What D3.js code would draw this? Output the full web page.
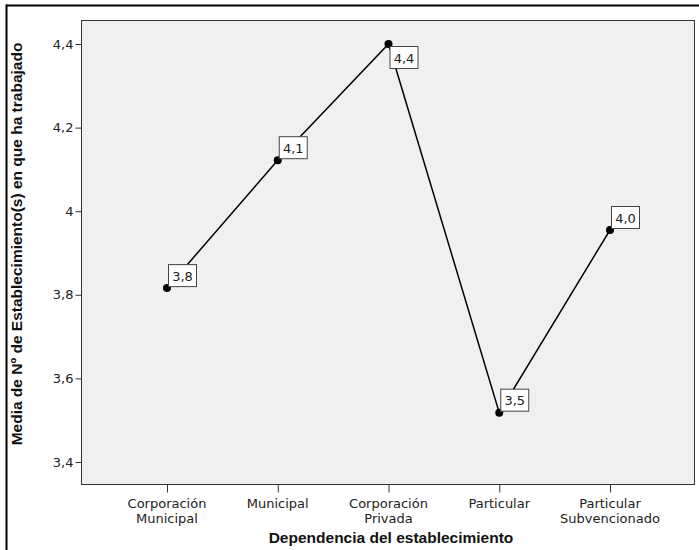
<!DOCTYPE html>
<html><head><meta charset="utf-8">
<script src="https://cdn.jsdelivr.net/npm/d3@7"></script>
<style>body{margin:0;background:#fff}svg{display:block}</style>
</head><body>
<script>
const categories = [["Corporación","Municipal"],["Municipal"],["Corporación","Privada"],["Particular"],["Particular","Subvencionado"]];
const means = [3.816, 4.122, 4.400, 3.518, 3.955];
const valueLabels = ["3,8","4,1","4,4","3,5","4,0"];
const yTicks = [3.4, 3.6, 3.8, 4.0, 4.2, 4.4];
const yTickLabels = ["3,4","3,6","3,8","4","4,2","4,4"];
const xTitle = "Dependencia del establecimiento";
const yTitle = "Media de Nº de Establecimiento(s) en que ha trabajado";

const W = 699, H = 550;
const plot = {l: 81, r: 695, t: 20, b: 484};
const svg = d3.select("body").append("svg").attr("width", W).attr("height", H);

// outer frame
svg.append("line").attr("x1",6.5).attr("x2",W).attr("y1",5.5).attr("y2",5.5).attr("stroke","#000").attr("stroke-width",2);
svg.append("line").attr("x1",6.5).attr("x2",6.5).attr("y1",4.5).attr("y2",H).attr("stroke","#000").attr("stroke-width",2);

const x = d3.scalePoint().domain(d3.range(categories.length)).range([167, 610]);
const y = d3.scaleLinear().domain([3.4, 4.4]).range([462, 44]);

svg.append("rect").attr("x",plot.l+0.5).attr("y",plot.t+0.5).attr("width",plot.r-plot.l-1).attr("height",plot.b-plot.t)
  .attr("fill","#f0f0f0").attr("stroke","#333").attr("stroke-width",1);

// y axis
const ya = svg.append("g").attr("transform",`translate(${plot.l+0.5},0)`)
  .call(d3.axisLeft(y).tickValues(yTicks).tickFormat((d,i)=>yTickLabels[i]).tickSize(6).tickPadding(2));
ya.select(".domain").remove();
ya.selectAll("text").attr("font-family","DejaVu Sans").attr("font-size",13).attr("fill","#222");
ya.selectAll("line").attr("stroke","#333");

// x axis
const xa = svg.append("g").attr("transform",`translate(0,${plot.b+0.5})`)
  .call(d3.axisBottom(x).tickSize(8).tickFormat(""));
xa.select(".domain").remove();
xa.selectAll("line").attr("stroke","#333");
categories.forEach((lines,i)=>{
  const t = svg.append("text").attr("x",x(i)).attr("y",508).attr("text-anchor","middle")
    .attr("font-family","DejaVu Sans").attr("font-size",13).attr("fill","#222");
  lines.forEach((ln,j)=>t.append("tspan").attr("x",x(i)).attr("dy",j?15:0).text(ln));
});

svg.append("text").attr("x",391).attr("y",543).attr("text-anchor","middle")
  .attr("font-family","Liberation Sans, Arial").attr("font-weight","bold").attr("font-size",15.5).attr("fill","#111").text(xTitle);
svg.append("text").attr("transform",`translate(22,244) rotate(-90)`).attr("text-anchor","middle")
  .attr("font-family","Liberation Sans, Arial").attr("font-weight","bold").attr("font-size",15.5).attr("fill","#111").text(yTitle);

// line
svg.append("path").datum(means).attr("fill","none").attr("stroke","#000").attr("stroke-width",1.5)
  .attr("d", d3.line().x((d,i)=>x(i)).y(d=>y(d)));

svg.selectAll("circle.pt").data(means).join("circle").attr("class","pt")
  .attr("cx",(d,i)=>x(i)).attr("cy",d=>y(d)).attr("r",4).attr("fill","#000");

// value labels
means.forEach((v,i)=>{
  const px = x(i), py = y(v);
  const below = py < 60;
  const bx = px + 1, by = below ? py + 2 : py - 24, bw = 28, bh = 22;
  svg.append("rect").attr("x",bx+0.5).attr("y",by+0.5).attr("width",bw).attr("height",bh)
    .attr("fill","#fff").attr("stroke","#444").attr("stroke-width",1);
  svg.append("text").attr("x",bx+bw/2+0.5).attr("y",by+16.5).attr("text-anchor","middle")
    .attr("font-family","DejaVu Sans").attr("font-size",13).attr("fill","#222").text(valueLabels[i]);
});
</script>
</body></html>
